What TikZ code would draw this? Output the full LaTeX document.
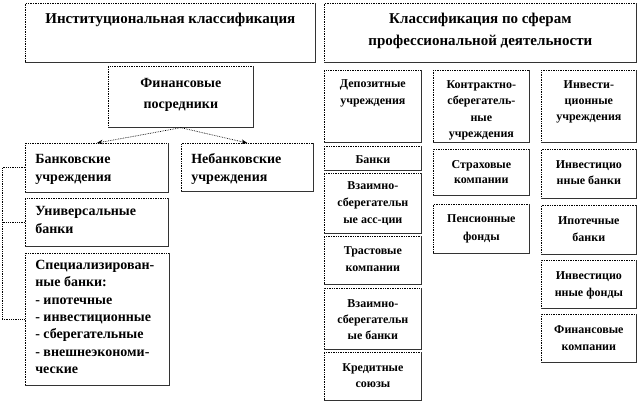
\documentclass[tikz,border=0pt]{standalone}
\usepackage{fontspec}
\setmainfont{Liberation Serif}
\usetikzlibrary{arrows.meta}
\newcommand\tbox[4]{\parbox[c][#2pt][t]{#1pt}{\vspace*{#3pt}\strut #4}}
\newcommand\fsbig{\fontsize{15}{21}\selectfont\bfseries}
\newcommand\fsmid{\fontsize{14}{18}\selectfont\bfseries}
\newcommand\fssmall{\fontsize{12}{17}\selectfont\bfseries}
\begin{document}
\begin{tikzpicture}[x=1pt,y=-1pt,
  box/.style={draw=black, densely dotted, line width=0.7pt, fill=white, inner sep=0pt, anchor=north west},
  shadowline/.style={draw=black!80, line width=0.8pt},
  arr/.style={densely dotted, line width=0.7pt, -{Stealth[length=6pt,width=4.5pt]}},
  brk/.style={densely dotted, line width=0.8pt}]
\useasboundingbox (0,0) rectangle (640,407);
% left column
\node[box] (ih) at (25,3) {\tbox{290}{59}{9.5}{\fsbig\centering Институциональная классификация}};
\node[box] (fin) at (108,66) {\tbox{145}{61}{11.5}{\fontsize{14}{21}\selectfont\bfseries\centering Финансовые\\посредники}};
\node[box] (bank) at (25,143) {\tbox{143}{49}{11}{\fsmid\raggedright\leftskip=10pt Банковские\\учреждения}};
\node[box] (nbank) at (181,143) {\tbox{132}{48}{10}{\fsmid\raggedright\leftskip=10pt Небанковские\\учреждения}};
\node[box] (univ) at (25,198) {\tbox{143}{48}{8}{\fsmid\raggedright\leftskip=10pt Универсальные\\банки}};
\node[box] (spec) at (25,253) {\tbox{144}{132}{7}{\fontsize{14}{17.3}\selectfont\bfseries\raggedright\leftskip=10pt Специализирован-\\ные банки:\\- ипотечные\\- инвестиционные\\- сберегательные\\- внешнеэкономи-\\ческие}};
% right header
\node[box] (ph) at (324,3) {\tbox{312}{59}{9.5}{\fontsize{15}{22}\selectfont\bfseries\centering Классификация по сферам\\профессиональной деятельности}};
% column 1
\node[box] (dep) at (324,70) {\tbox{97}{72}{8.5}{\fssmall\centering Депозитные\\учреждения}};
\node[box] (banki) at (324,146) {\tbox{97}{24}{8.5}{\fssmall\centering Банки}};
\node[box] (vza) at (324,173) {\tbox{97}{60}{7.5}{\fssmall\centering Взаимно-\\сберегательн\\ые асс-ции}};
\node[box] (trast) at (324,236) {\tbox{97}{48}{10}{\fssmall\centering Трастовые\\компании}};
\node[box] (vzb) at (324,288) {\tbox{97}{61}{11}{\fontsize{12}{16}\selectfont\bfseries\centering Взаимно-\\сберегательн\\ые банки}};
\node[box] (kred) at (324,352) {\tbox{97}{48}{11}{\fontsize{12}{16}\selectfont\bfseries\centering Кредитные\\союзы}};
% column 2
\node[box] (kontr) at (433,70) {\tbox{96}{72}{9.5}{\fontsize{12}{16.5}\selectfont\bfseries\centering Контрактно-\\сберегатель-\\ные\\учреждения}};
\node[box] (strah) at (433,149) {\tbox{96}{46}{10.5}{\fontsize{12}{15.5}\selectfont\bfseries\centering Страховые\\компании}};
\node[box] (pens) at (433,204) {\tbox{96}{49}{9.5}{\fontsize{12}{18}\selectfont\bfseries\centering Пенсионные\\фонды}};
% column 3
\node[box] (inv) at (541,70) {\tbox{95}{72}{9.5}{\fontsize{12}{16}\selectfont\bfseries\centering Инвести-\\ционные\\учреждения}};
\node[box] (invb) at (541,149) {\tbox{95}{49}{11}{\fontsize{12}{16}\selectfont\bfseries\centering Инвестицио\\нные банки}};
\node[box] (ipot) at (541,205) {\tbox{95}{49}{10.5}{\fontsize{12}{17}\selectfont\bfseries\centering Ипотечные\\банки}};
\node[box] (invf) at (541,260) {\tbox{95}{48}{11}{\fontsize{12}{17}\selectfont\bfseries\centering Инвестицио\\нные фонды}};
\node[box] (finc) at (541,314) {\tbox{95}{48}{10.5}{\fontsize{12}{17}\selectfont\bfseries\centering Финансовые\\компании}};
% shadow edges
\foreach \n in {ih,fin,bank,nbank,univ,spec,ph,dep,banki,vza,trast,vzb,kred,kontr,strah,pens,inv,invb,ipot,invf,finc}
  \draw[shadowline] (\n.north east) -- (\n.south east) -- (\n.south west);
% connectors
\draw[arr] (fin.south) -- (bank.north);
\draw[arr] (fin.south) -- (nbank.north);
\draw[brk] (bank.west) -- ++(-23,0) |- (spec.west);
\draw[brk] (univ.west) -- ++(-23,0);
\end{tikzpicture}
\end{document}
